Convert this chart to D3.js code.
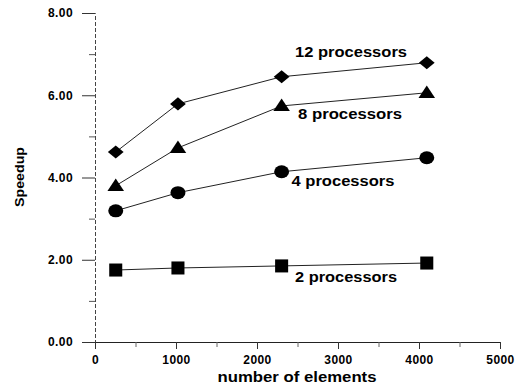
<!DOCTYPE html>
<html><head><meta charset="utf-8">
<script src="https://cdn.jsdelivr.net/npm/d3@7"></script>
<style>body{margin:0;background:#fff}svg{display:block;font-family:"Liberation Sans",Arial,sans-serif}</style>
</head><body><svg id="c" width="518" height="388"></svg>
<script>
const elements = [256, 1024, 2304, 4096];
const speed12 = [4.62, 5.79, 6.45, 6.79];
const speed8 = [3.80, 4.72, 5.74, 6.06];
const speed4 = [3.19, 3.63, 4.14, 4.48];
const speed2 = [1.75, 1.80, 1.85, 1.92];
const seriesNames = ["12 processors", "8 processors", "4 processors", "2 processors"];
const seriesShapes = ["diamond", "triangle", "circle", "square"];
const yTicks = [0, 2, 4, 6, 8];
const xTicks = [0, 1000, 2000, 3000, 4000, 5000];
const labelPos = [[351, 7.02], [350, 5.52], [343, 3.89], [346, 1.56]]; // [x px-center, y value]
const labelLen = [112, 104, 103, 102];

const svg = d3.select("#c");
const x = d3.scaleLinear().domain([0, 5000]).range([95, 500]);
const y = d3.scaleLinear().domain([0, 8]).range([342, 13]);

// axes
const yAxis = svg.append("g").attr("transform", "translate(95,0)")
  .call(d3.axisLeft(y).tickValues(yTicks).tickFormat(d3.format(".2f")).tickSize(13).tickPadding(9));
yAxis.select(".domain").attr("stroke", "#444").attr("stroke-dasharray", "4,2");
yAxis.selectAll(".tick line").attr("stroke", "#333");
yAxis.selectAll("text").attr("font-size", 12).attr("letter-spacing", 0.4).attr("font-weight", "bold").attr("fill", "#000");
svg.append("g").attr("transform", "translate(95,0)")
  .call(d3.axisLeft(y).tickValues([1, 3, 5, 7]).tickFormat("").tickSize(6))
  .call(g => g.select(".domain").remove())
  .selectAll("line").attr("stroke", "#555");

const xAxis = svg.append("g").attr("transform", "translate(0,342)")
  .call(d3.axisBottom(x).tickValues(xTicks).tickFormat(d3.format("d")).tickSize(7).tickSizeOuter(0).tickPadding(6));
xAxis.select(".domain").attr("stroke", "#222");
xAxis.selectAll(".tick line").attr("stroke", "#333");
xAxis.selectAll("text").attr("font-size", 12).attr("letter-spacing", 0.4).attr("font-weight", "bold").attr("fill", "#000");
svg.append("g").attr("transform", "translate(0,342)")
  .call(d3.axisBottom(x).tickValues([500, 1500, 2500, 3500, 4500]).tickFormat("").tickSize(5))
  .call(g => g.select(".domain").remove())
  .selectAll("line").attr("stroke", "#666");

// titles
svg.append("text").attr("transform", "translate(24,177) rotate(-90)").attr("text-anchor", "middle")
  .attr("font-size", 13).attr("font-weight", "bold").attr("textLength", 60).attr("lengthAdjust", "spacingAndGlyphs").text("Speedup");
svg.append("text").attr("x", 297).attr("y", 382).attr("text-anchor", "middle")
  .attr("font-size", 15).attr("font-weight", "bold").attr("textLength", 159).attr("lengthAdjust", "spacingAndGlyphs").text("number of elements");

const allSeries = [speed12, speed8, speed4, speed2];
const line = d3.line().x((d, i) => x(elements[i])).y(d => y(d));
const sym = {
  diamond: d3.symbol().type(d3.symbolDiamond2).size(110),
  triangle: d3.symbol().type(d3.symbolTriangle).size(90),
  square: d3.symbol().type(d3.symbolSquare).size(170)
};
allSeries.forEach((s, k) => {
  svg.append("path").datum(s).attr("d", line).attr("fill", "none").attr("stroke", "#222").attr("stroke-width", 1);
  const shape = seriesShapes[k];
  s.forEach((v, i) => {
    const cx = x(elements[i]), cy = y(v);
    if (shape === "circle") {
      svg.append("ellipse").attr("cx", cx).attr("cy", cy).attr("rx", 7.5).attr("ry", 6.5).attr("fill", "#000");
    } else {
      svg.append("path").attr("d", sym[shape]()).attr("transform", `translate(${cx},${cy})` + (shape === "diamond" ? " scale(1.2,1)" : shape === "triangle" ? " translate(0,1) scale(1.15,1)" : ""))
        .attr("fill", "#000");
    }
  });
  svg.append("text").attr("x", labelPos[k][0]).attr("y", y(labelPos[k][1])).attr("text-anchor", "middle")
    .attr("dominant-baseline", "middle").attr("font-size", 15).attr("font-weight", "bold")
    .attr("textLength", labelLen[k]).attr("lengthAdjust", "spacingAndGlyphs").text(seriesNames[k]);
});
</script></body></html>
